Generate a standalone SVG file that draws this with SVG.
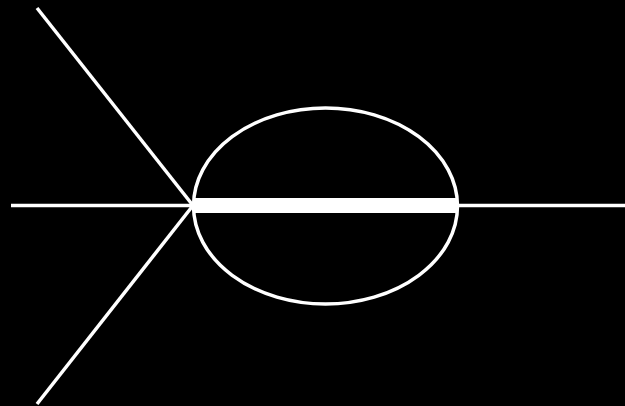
<svg xmlns="http://www.w3.org/2000/svg" width="625" height="406" viewBox="0 0 625 406">
<style>.l{stroke:#fff;stroke-width:3.5;fill:none}</style>
<rect width="625" height="406" fill="#000"/>
<g id="connectors">
<line class="l" x1="11" y1="205.5" x2="193" y2="205.5"/>
<line class="l" x1="37" y1="8" x2="193" y2="205.5"/>
<line class="l" x1="37" y1="404" x2="193" y2="205.5"/>
<line class="l" x1="457" y1="205.5" x2="625" y2="205.5"/>
<rect x="193" y="198" width="265" height="15" fill="#fff"/>
</g>
<g id="loop">
<ellipse class="l" cx="325.5" cy="206" rx="132" ry="98"/>
</g>
</svg>
